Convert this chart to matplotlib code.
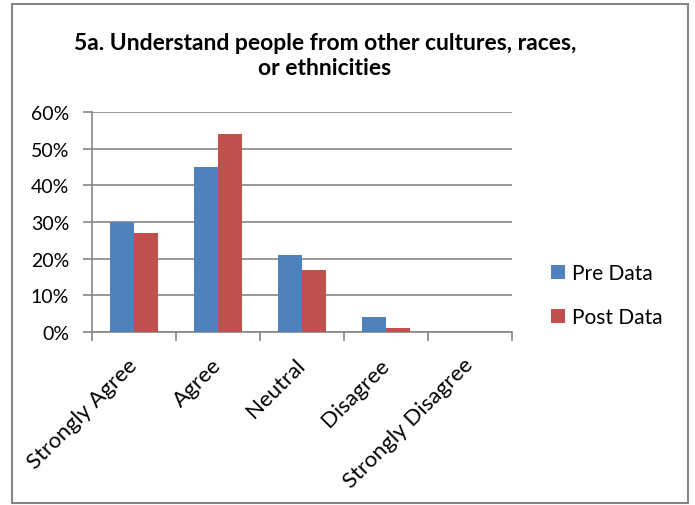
import matplotlib
matplotlib.use("Agg")
from matplotlib import pyplot as plt
from matplotlib.patches import Rectangle
from matplotlib.transforms import ScaledTranslation
import numpy as np

categories = ["Strongly Agree", "Agree", "Neutral", "Disagree", "Strongly Disagree"]
pre_data = [30, 45, 21, 4, 0]
post_data = [27, 54, 17, 1, 0]
series_names = ["Pre Data", "Post Data"]
y_ticks = [0, 10, 20, 30, 40, 50, 60]
title = "5a. Understand people from other cultures, races,\nor ethnicities"

plt.rcParams['font.family'] = ['Lato', 'DejaVu Sans']

W, H = 695, 506
fig = plt.figure(figsize=(W / 100, H / 100), dpi=100)
ax = fig.add_axes([92 / W, 1 - 333 / H, (512 - 92) / W, (333 - 113) / H])

blue = '#4F81BD'
red = '#C0504D'
grey = '#868686'

x = np.arange(len(categories))
bw = 0.29
b1 = ax.bar(x - bw / 2, pre_data, bw, color=blue, zorder=3)
b2 = ax.bar(x + bw / 2, post_data, bw, color=red, zorder=3)

ax.set_xlim(-0.5, len(categories) - 0.5)
ax.set_ylim(0, 60)
ax.set_yticks(y_ticks)
ax.set_yticklabels([f"{v}%" for v in y_ticks], fontsize=14)
ax.yaxis.grid(True, color=grey, linewidth=1.2, zorder=0)
ax.tick_params(axis='y', length=6.5, width=1.2, color=grey, direction='out', pad=10)

# ticks on category edges, labels at the centres
ax.set_xticks(np.arange(len(categories) + 1) - 0.5)
ax.set_xticklabels([])
ax.set_xticks(x, minor=True)
ax.set_xticklabels(categories, minor=True, rotation=45, ha='right',
                   rotation_mode='anchor', fontsize=16)
ax.tick_params(axis='x', which='major', length=6.5, width=1.2, color=grey, direction='out')
ax.tick_params(axis='x', which='minor', length=0, pad=11)
shift = ScaledTranslation(-7 / 100, -7 / 100, fig.dpi_scale_trans)
for lbl in ax.get_xticklabels(minor=True):
    lbl.set_transform(lbl.get_transform() + shift)

for s in ['top', 'right']:
    ax.spines[s].set_visible(False)
for s in ['left', 'bottom']:
    ax.spines[s].set_color(grey)
    ax.spines[s].set_linewidth(1.2)

fig.text(325 / W, 1 - 56 / H, title, ha='center', va='center',
         fontsize=16.5, fontweight='bold', linespacing=1.25)

fig.legend([b1, b2], series_names, loc='center left',
           bbox_to_anchor=(551 / W, 1 - 296 / H), frameon=False,
           fontsize=15, handlelength=0.65, handleheight=0.65,
           handletextpad=0.35, labelspacing=1.14, borderpad=0, borderaxespad=0)

fig.patches.append(Rectangle((12 / W, 1 - 504 / H), (688 - 12) / W, (504 - 5) / H,
                             transform=fig.transFigure, fill=False,
                             edgecolor=grey, linewidth=1.5))

fig.savefig("out.png", dpi=100)
